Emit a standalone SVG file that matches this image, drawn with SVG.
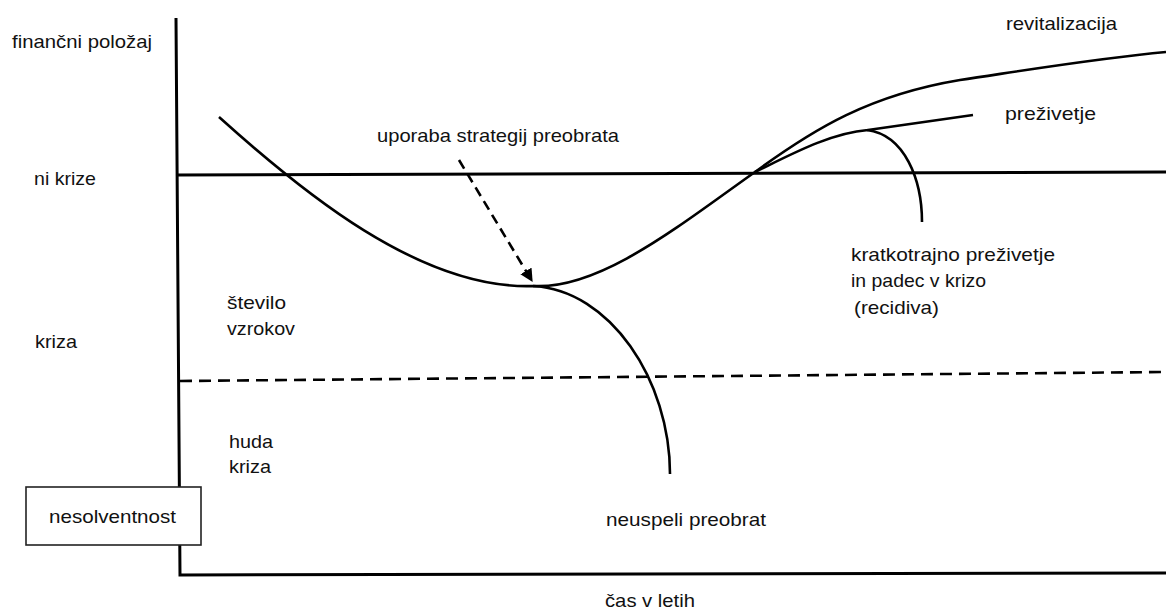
<svg xmlns="http://www.w3.org/2000/svg" width="1166" height="612" viewBox="0 0 1166 612">
  <style>
    text { font-family: "Liberation Sans", Arial, sans-serif; font-size: 19px; fill: #111; }
    .ln { fill: none; stroke: #000; stroke-width: 2.6; stroke-linecap: butt; }
    .ax { fill: none; stroke: #000; stroke-width: 3; }
    .dash { fill: none; stroke: #000; stroke-width: 2.6; stroke-dasharray: 12 7; }
    .adash { fill: none; stroke: #000; stroke-width: 2.6; stroke-dasharray: 10 6; }
  </style>
  <defs>
    <marker id="ah" viewBox="0 0 10 10" refX="9" refY="5" markerWidth="5" markerHeight="5" orient="auto" markerUnits="strokeWidth">
      <path d="M0,0 L10,5 L0,10 z" fill="#000"/>
    </marker>
  </defs>
  <rect width="1166" height="612" fill="#fff"/>

  <!-- axes and level lines -->
  <g id="axes">
    <path class="ax" d="M176,18 L180,575 L1166,573"/>
    <path class="ax" d="M176,175 L1166,172"/>
    <path class="dash" d="M180,381 L1166,372"/>
  </g>

  <!-- curves -->
  <g id="connectors">
    <path class="ln" d="M219,117 C300,190 420,290 533,286 C600,290 680,225 755,172 C815,128 870,95 960,80 C1040,68 1100,58 1166,52"/>
    <path class="ln" d="M755,172 C790,155 830,133 868,130 L973,115"/>
    <path class="ln" d="M867,130 C905,135 922,180 922,222"/>
    <path class="ln" d="M533,286 C610,290 670,380 670,474"/>
    <path class="adash" d="M459,160 L532,281" marker-end="url(#ah)"/>
  </g>

  <!-- labels -->
  <g id="label-financni"><text x="12" y="48" textLength="140" lengthAdjust="spacingAndGlyphs">finančni položaj</text></g>
  <g id="label-ni-krize"><text x="34" y="185" textLength="62" lengthAdjust="spacingAndGlyphs">ni krize</text></g>
  <g id="label-kriza"><text x="35" y="348" textLength="42" lengthAdjust="spacingAndGlyphs">kriza</text></g>
  <g id="label-stevilo">
    <text x="227" y="309" textLength="59" lengthAdjust="spacingAndGlyphs">število</text>
    <text x="227" y="335" textLength="68" lengthAdjust="spacingAndGlyphs">vzrokov</text>
  </g>
  <g id="label-huda">
    <text x="229" y="448" textLength="44" lengthAdjust="spacingAndGlyphs">huda</text>
    <text x="229" y="473" textLength="42" lengthAdjust="spacingAndGlyphs">kriza</text>
  </g>
  <g id="node-nesolventnost">
    <rect x="26" y="487" width="175" height="58" fill="#fff" stroke="#222" stroke-width="1.6"/>
    <text x="49" y="523" textLength="127" lengthAdjust="spacingAndGlyphs">nesolventnost</text>
  </g>
  <g id="label-uporaba"><text x="377" y="142" textLength="242" lengthAdjust="spacingAndGlyphs">uporaba strategij preobrata</text></g>
  <g id="label-revitalizacija"><text x="1006" y="30" textLength="111" lengthAdjust="spacingAndGlyphs">revitalizacija</text></g>
  <g id="label-prezivetje"><text x="1005" y="120" textLength="91" lengthAdjust="spacingAndGlyphs">preživetje</text></g>
  <g id="label-recidiva">
    <text x="851" y="261" textLength="204" lengthAdjust="spacingAndGlyphs">kratkotrajno preživetje</text>
    <text x="851" y="287" textLength="135" lengthAdjust="spacingAndGlyphs">in padec v krizo</text>
    <text x="854" y="314" textLength="85" lengthAdjust="spacingAndGlyphs">(recidiva)</text>
  </g>
  <g id="label-neuspeli"><text x="606" y="526" textLength="160" lengthAdjust="spacingAndGlyphs">neuspeli preobrat</text></g>
  <g id="label-cas"><text x="605" y="607" textLength="90" lengthAdjust="spacingAndGlyphs">čas v letih</text></g>
</svg>
